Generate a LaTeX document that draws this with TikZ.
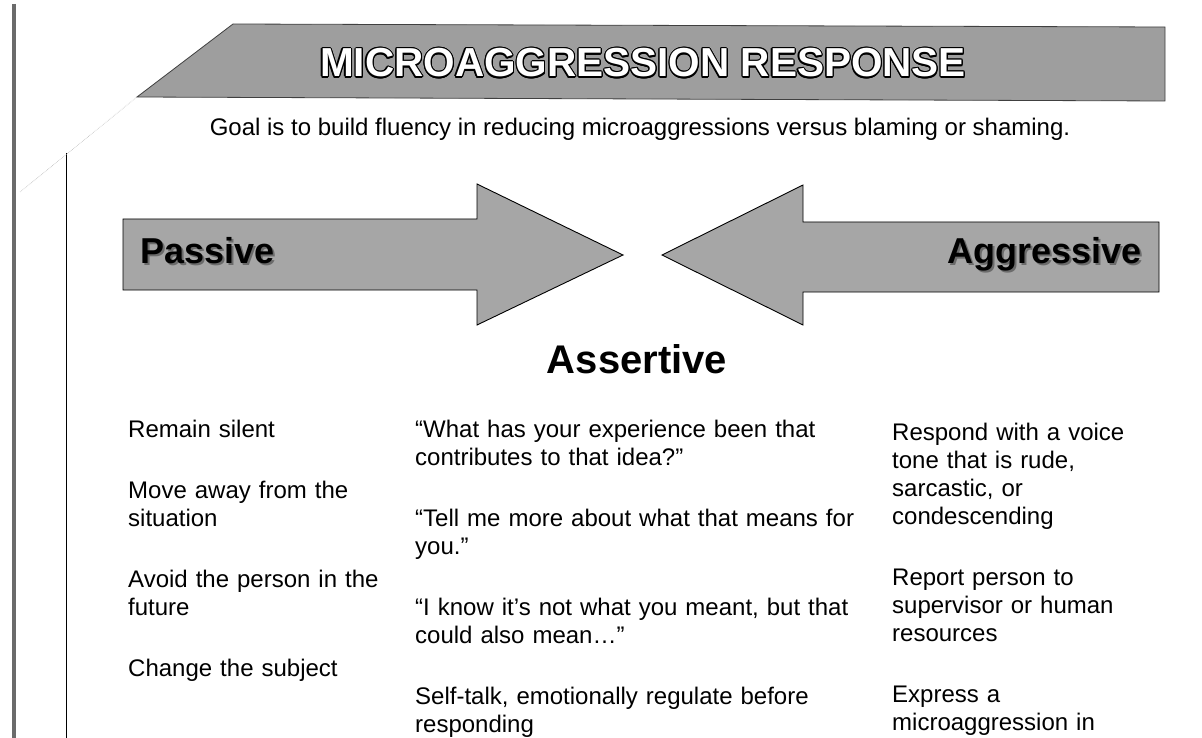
\documentclass[tikz,border=0pt]{standalone}
\usepackage{fontspec}
\setmainfont{Liberation Sans}
\definecolor{bannerfill}{gray}{0.62}
\definecolor{arrowfill}{gray}{0.65}
\definecolor{edgegray}{gray}{0.25}
\definecolor{shadowgray}{gray}{0.42}
\definecolor{barGray}{gray}{0.42}

% white letters ringed by a thin black outline
\newcommand\outlinedword[1]{%
  \foreach \ang in {0,22.5,...,337.5}{%
    \pgfmathsetlengthmacro\odx{1.1pt*cos(\ang)}%
    \pgfmathsetlengthmacro\ody{1.1pt*sin(\ang)}%
    \rlap{\kern\odx\raisebox{\ody}{\textcolor{black}{#1}}}}%
  \textcolor{white}{#1}}

% black letters with a soft grey drop shadow
\newcommand\shadowword[1]{%
  \rlap{\kern2.2pt\raisebox{-2.2pt}{\textcolor{shadowgray}{#1}}}%
  \textcolor{black}{#1}}

\tikzset{
  band/.style={fill=bannerfill, draw=edgegray, line width=0.8pt, line join=miter},
  bigarrow/.style={fill=arrowfill, draw=black, line width=0.9pt, line join=miter},
  titletext/.style={inner sep=0pt, anchor=base, font=\fontsize{40.5}{46}\selectfont\bfseries},
  armlabel/.style={inner sep=0pt, font=\fontsize{36}{40}\selectfont\bfseries},
  headline/.style={inner sep=0pt, anchor=base, font=\fontsize{40}{46}\selectfont\bfseries},
  bodytext/.style={inner sep=0pt, anchor=base, font=\fontsize{24}{28}\selectfont},
  column/.style={inner sep=0pt, anchor=base west, align=left, text width=#1,
    font=\fontsize{24}{28}\selectfont},
}

\begin{document}
\begin{tikzpicture}[x=1pt,y=-1pt]
  \useasboundingbox (0,0) rectangle (1202,738);
  \fill[white] (0,0) rectangle (1202,738);

  % page edges
  \draw[barGray, line width=4pt] (14,4) -- (14,738);
  \draw[black, line width=0.8pt] (66,153) -- (66,738);
  \draw[gray!55, line width=0.6pt, densely dotted] (20,192) -- (137,97);

  % title band
  \path[band] (137,97) -- (233,24) -- (1165,27) -- (1165,101) -- cycle;
  \node[titletext] (title) at (643,77) {\outlinedword{MICROAGGRESSION RESPONSE}};

  \node[bodytext] (goal) at (640,136)
    {Goal is to build fluency in reducing microaggressions versus blaming or shaming.};

  % the two opposing arrows
  \path[bigarrow] (123,219) -- (477,219) -- (477,184) -- (623,255)
                  -- (477,325) -- (477,290) -- (123,290) -- cycle;
  \path[bigarrow] (1159,222) -- (803,222) -- (803,185) -- (662,255)
                  -- (803,325) -- (803,292) -- (1159,292) -- cycle;
  \node[armlabel, anchor=base west] (passive) at (140,263) {\shadowword{Passive}};
  \node[armlabel, anchor=base east] (aggressive) at (1142,263) {\shadowword{Aggressive}};

  \node[headline] (assertive) at (637,373) {Assertive};

  % three columns of responses
  \node[column=275pt] (passivelist) at (128,437) {%
    Remain silent\\[33pt]
    Move away from the\\
    situation\\[33pt]
    Avoid the person in the\\
    future\\[33pt]
    Change the subject};

  \node[column=470pt] (assertivelist) at (415,437) {%
    “What has your experience been that\\
    contributes to that idea?”\\[33pt]
    “Tell me more about what that means for\\
    you.”\\[33pt]
    “I know it’s not what you meant, but that\\
    could also mean…”\\[33pt]
    Self-talk, emotionally regulate before\\
    responding};

  \node[column=300pt] (aggressivelist) at (892,440) {%
    Respond with a voice\\
    tone that is rude,\\
    sarcastic, or\\
    condescending\\[33pt]
    Report person to\\
    supervisor or human\\
    resources\\[33pt]
    Express a\\
    microaggression in};
\end{tikzpicture}
\end{document}
